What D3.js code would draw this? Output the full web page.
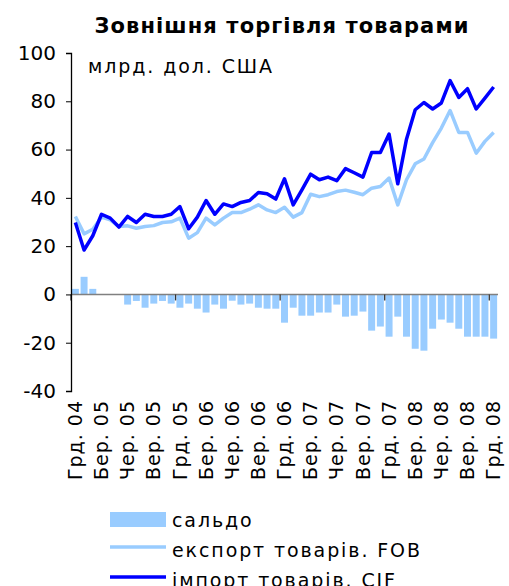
<!DOCTYPE html>
<html>
<head>
<meta charset="utf-8">
<script src="https://cdn.jsdelivr.net/npm/d3@7"></script>
<style>
  body { margin: 0; background: #fff; }
  svg { display: block; font-family: "DejaVu Sans", Verdana, sans-serif; }
  .ttl { font-weight: bold; font-size: 21px; letter-spacing: 1.1px; }
  .lbl { font-size: 19px; letter-spacing: 1.9px; }
</style>
</head>
<body>
<svg id="chart" width="509" height="586"></svg>
<script>
// місяці: грудень 2004 - грудень 2008
var monthNames = ["Січ.", "Лют.", "Бер.", "Кві.", "Тра.", "Чер.", "Лип.", "Сер.", "Вер.", "Жов.", "Лис.", "Грд."];
var months = ["Грд. 04"];
for (var yr = 5; yr <= 8; yr++) {
  for (var m = 0; m < 12; m++) months.push(monthNames[m] + " 0" + yr);
}

var exportFob = [32.3, 25.1, 27.0, 32.0, 30.9, 28.1, 28.4, 27.4, 28.1, 28.5,
                 29.8, 30.1, 31.6, 23.3, 25.6, 31.6, 28.8, 31.6, 33.9, 33.9,
                 35.3, 37.1, 35.0, 33.9, 36.1, 32.0, 33.9, 41.5, 40.5, 41.3,
                 42.6, 43.2, 42.3, 41.3, 44.0, 44.7, 48.2, 37.1, 47.5, 54.1,
                 56.1, 62.9, 68.9, 76.2, 67.1, 67.1, 58.5, 63.4, 67.1];

var importCif = [29.8, 18.4, 24.3, 33.2, 31.6, 27.9, 32.3, 29.8, 33.2, 32.3,
                 32.3, 33.2, 36.4, 27.2, 32.0, 38.9, 33.2, 37.5, 36.4, 38.1,
                 38.9, 42.2, 41.7, 39.5, 47.9, 37.1, 43.3, 49.8, 47.5, 48.6,
                 47.1, 52.1, 50.4, 48.6, 58.8, 58.8, 66.4, 45.8, 64.3, 76.5,
                 79.5, 76.8, 79.3, 88.6, 81.6, 85.2, 76.8, 81.3, 85.9];

var saldo = [2.3, 7.3, 2.3, 0, 0, 0, -4.2, -2.7, -5.5, -3.8,
             -2.7, -3.8, -5.5, -3.8, -5.9, -7.5, -4.2, -5.9, -2.6, -4.2,
             -3.8, -5.5, -5.9, -5.9, -11.7, -5.5, -8.8, -8.8, -7.5, -7.5,
             -4.2, -9.2, -8.8, -7.1, -15.0, -13.3, -17.5, -9.2, -17.5, -22.5,
             -23.3, -14.2, -10.4, -11.7, -14.2, -17.5, -17.5, -17.5, -18.3];

var yTicks = [-40, -20, 0, 20, 40, 60, 80, 100];

var seriesNames = ["сальдо", "експорт товарів. FOB", "імпорт товарів. CIF"];

var svg = d3.select("#chart"),
    margin = {top: 53, right: 11, bottom: 195, left: 71},
    width = svg.attr("width") - margin.left - margin.right,
    height = svg.attr("height") - margin.top - margin.bottom;

var lightBlue = "#99ccff", darkBlue = "#0000ff";

var x = d3.scaleBand().domain(months).range([0, width]).paddingInner(0.2).paddingOuter(0.1),
    xc = d3.scaleBand().domain(months).range([0, width]),
    y = d3.scaleLinear().domain([-40, 100]).range([height, 0]);

var g = svg.append("g")
    .attr("transform", "translate(" + margin.left + "," + margin.top + ")");

svg.append("text")
    .attr("class", "ttl")
    .attr("x", 282)
    .attr("y", 33)
    .attr("text-anchor", "middle")
    .text("Зовнішня торгівля товарами");

// bars
g.selectAll(".bar")
  .data(saldo)
  .enter().append("rect")
    .attr("class", "bar")
    .attr("x", function(d, i) { return xc(months[i]) + (xc.bandwidth() - x.bandwidth()) / 2; })
    .attr("width", x.bandwidth())
    .attr("y", function(d) { return y(Math.max(0, d)); })
    .attr("height", function(d) { return Math.abs(y(d) - y(0)); })
    .attr("fill", lightBlue);

// zero line + year ticks
g.append("line")
    .attr("x1", 0).attr("x2", width)
    .attr("y1", y(0)).attr("y2", y(0))
    .attr("stroke", "#808080").attr("stroke-width", 1.5);

g.selectAll(".ytick-mark")
  .data(d3.range(0, months.length, 12))
  .enter().append("line")
    .attr("x1", function(d) { return xc(months[d]); })
    .attr("x2", function(d) { return xc(months[d]); })
    .attr("y1", y(0)).attr("y2", y(0) + 6)
    .attr("stroke", "#333").attr("stroke-width", 1.3);

var line = d3.line()
    .x(function(d, i) { return xc(months[i]) + xc.bandwidth() / 2; })
    .y(function(d) { return y(d); });

g.append("path")
    .datum(exportFob)
    .attr("fill", "none")
    .attr("stroke", lightBlue)
    .attr("stroke-width", 3.5)
    .attr("stroke-linejoin", "round")
    .attr("d", line);

g.append("path")
    .datum(importCif)
    .attr("fill", "none")
    .attr("stroke", darkBlue)
    .attr("stroke-width", 3.5)
    .attr("stroke-linejoin", "round")
    .attr("d", line);

// y axis
var yAxis = g.append("g")
    .call(d3.axisLeft(y).tickValues(yTicks).tickSize(5).tickPadding(10)
      .tickFormat(function(d) { return String(d); }));
yAxis.select(".domain").attr("stroke", "#000").attr("stroke-width", 1.3);
yAxis.selectAll(".tick line").attr("stroke", "#000");
yAxis.selectAll("text").attr("font-size", 20).attr("fill", "#000").attr("font-family", "DejaVu Sans");

// x labels
var xAxis = g.append("g")
    .attr("transform", "translate(0," + (height + 9) + ")")
    .call(d3.axisBottom(xc).tickValues(months.filter(function(d, i) { return i % 3 === 0; })).tickSize(0));
xAxis.select(".domain").remove();
xAxis.selectAll("text")
    .attr("font-size", 19)
    .attr("font-family", "DejaVu Sans")
    .attr("letter-spacing", "1px")
    .attr("fill", "#000")
    .attr("transform", "rotate(-90)")
    .attr("x", 0).attr("y", 0).attr("dx", 0).attr("dy", "0.35em")
    .attr("text-anchor", "end");

svg.append("text")
    .attr("class", "lbl")
    .attr("x", 88)
    .attr("y", 73)
    .text("млрд. дол. США");

// legend
var legend = svg.append("g").attr("transform", "translate(110,512)");
var item = legend.selectAll(".item")
  .data(seriesNames)
  .enter().append("g")
    .attr("transform", function(d, i) { return "translate(0," + i * 30 + ")"; });

item.filter(function(d, i) { return i === 0; })
  .append("rect")
    .attr("width", 56).attr("height", 15)
    .attr("fill", lightBlue);
item.filter(function(d, i) { return i > 0; })
  .append("line")
    .attr("x1", 0).attr("x2", 56)
    .attr("y1", 5).attr("y2", 5)
    .attr("stroke-width", 3.5)
    .attr("stroke", function(d, i) { return i === 0 ? lightBlue : darkBlue; });
item.append("text")
    .attr("class", "lbl")
    .attr("x", 62)
    .attr("y", 15)
    .text(function(d) { return d; });
</script>
</body>
</html>
